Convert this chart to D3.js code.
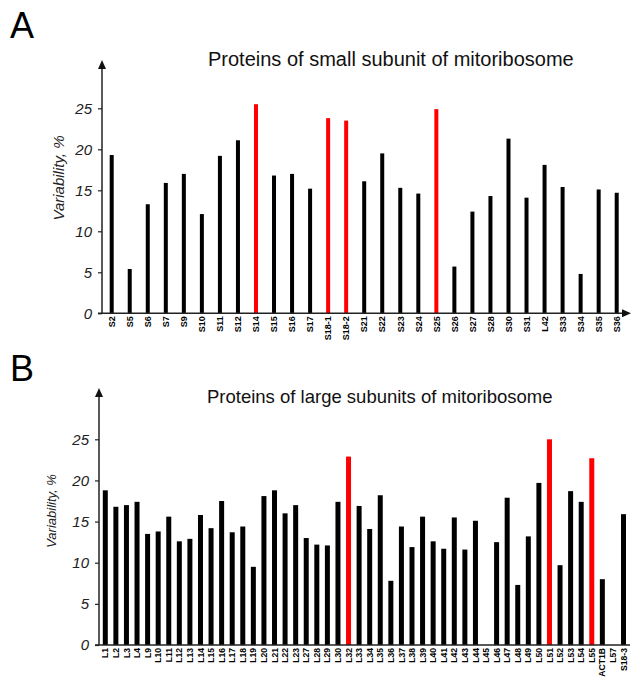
<!DOCTYPE html>
<html>
<head>
<meta charset="utf-8">
<script src="https://cdn.jsdelivr.net/npm/d3@7"></script>
<style>
  html, body { margin: 0; padding: 0; background: #fff; }
  svg { display: block; font-family: "Liberation Sans", Arial, Helvetica, sans-serif; }
</style>
</head>
<body>
<svg id="chart" width="631" height="677"></svg>
<script>
// Small mitoribosome subunit proteins
const smallProteins = ["S2","S5","S6","S7","S9","S10","S11","S12","S14","S15","S16","S17","S18-1","S18-2",
  "S21","S22","S23","S24","S25","S26","S27","S28","S30","S31","L42","S33","S34","S35","S36"];
const smallVariability = [19.3,5.4,13.3,15.9,17.0,12.1,19.2,21.1,25.5,16.8,17.0,15.2,23.8,23.5,
  16.1,19.5,15.3,14.6,24.9,5.7,12.4,14.3,21.3,14.1,18.1,15.4,4.8,15.1,14.7];
const smallHighlighted = ["S14","S18-1","S18-2","S25"];

// Large mitoribosome subunit proteins
const largeProteins = ["L1","L2","L3","L4","L9","L10","L11","L12","L13","L14","L15","L16","L17","L18","L19",
  "L20","L21","L22","L23","L27","L28","L29","L30","L32","L33","L34","L35","L36","L37","L38","L39","L40",
  "L41","L42","L43","L44","L45","L46","L47","L48","L49","L50","L51","L52","L53","L54","L55","ACT1B","L57","S18-3"];
const largeVariability = [18.8,16.8,17.0,17.4,13.5,13.8,15.6,12.6,12.9,15.8,14.2,17.5,13.7,14.4,9.5,
  18.1,18.8,16.0,17.0,13.0,12.2,12.1,17.4,22.9,16.9,14.1,18.2,7.8,14.4,11.9,15.6,12.6,
  11.7,15.5,11.6,15.1,0,12.5,17.9,7.3,13.2,19.7,25.0,9.7,18.7,17.4,22.7,8.0,0,15.9];
const largeHighlighted = ["L32","L51","L55"];

const yTicks = [0, 5, 10, 15, 20, 25];

const svg = d3.select("#chart");

function panel(cfg) {
  const g = svg.append("g");
  const y = d3.scaleLinear().domain([0, 25]).range([cfg.y0, cfg.y25]);
  const x = d3.scalePoint().domain(cfg.cats).range([cfg.xFirst, cfg.xLast]);
  const data = cfg.cats.map((c, i) => ({ cat: c, v: cfg.vals[i] }));

  // panel letter
  g.append("text").attr("x", cfg.letterX).attr("y", cfg.letterY)
    .attr("font-size", 36).attr("fill", "#000").text(cfg.letter);

  // title
  g.append("text").attr("x", cfg.titleX).attr("y", cfg.titleY)
    .attr("font-size", cfg.titleFont).attr("fill", "#111").text(cfg.title);

  // bars
  g.selectAll("rect.bar").data(data.filter(d => d.v > 0)).enter().append("rect")
    .attr("class", "bar")
    .attr("x", d => x(d.cat) - cfg.barW / 2)
    .attr("width", cfg.barW)
    .attr("y", d => y(d.v))
    .attr("height", d => y(0) - y(d.v))
    .attr("fill", d => cfg.hi.includes(d.cat) ? "#ff0000" : "#000");

  // y axis ticks and labels
  const ya = g.append("g").attr("transform", `translate(${cfg.axisX},0)`)
    .call(d3.axisLeft(y).tickValues(yTicks).tickSize(4).tickPadding(cfg.tickPad));
  ya.select(".domain").remove();
  ya.selectAll(".tick line").attr("stroke", "#222").attr("stroke-width", 1.2);
  ya.selectAll(".tick text").attr("font-size", 15).attr("font-style", "italic")
    .attr("font-family", "Liberation Sans, Arial, sans-serif").attr("fill", "#222");

  // axis lines
  g.append("line").attr("x1", cfg.axisX).attr("x2", cfg.axisX)
    .attr("y1", y(0)).attr("y2", cfg.arrowTipY + 6)
    .attr("stroke", "#222").attr("stroke-width", 1.5);
  g.append("path")
    .attr("d", `M${cfg.axisX},${cfg.arrowTipY} L${cfg.axisX - 4},${cfg.arrowTipY + 9} L${cfg.axisX + 4},${cfg.arrowTipY + 9} Z`)
    .attr("fill", "#111");
  g.append("line").attr("x1", cfg.axisX - 4).attr("x2", cfg.xAxisEnd)
    .attr("y1", y(0)).attr("y2", y(0))
    .attr("stroke", "#222").attr("stroke-width", 1.5);
  if (cfg.xArrow) {
    g.append("path")
      .attr("d", `M${cfg.xAxisEnd + 8},${y(0)} L${cfg.xAxisEnd - 1},${y(0) - 4} L${cfg.xAxisEnd - 1},${y(0) + 4} Z`)
      .attr("fill", "#111");
  }

  // category labels
  g.selectAll("text.cat").data(data).enter().append("text")
    .attr("class", "cat")
    .attr("transform", d => `translate(${x(d.cat) + cfg.labelFont * 0.36},${y(0) + 3}) rotate(-90)`)
    .attr("text-anchor", "end")
    .attr("font-size", cfg.labelFont).attr("font-weight", "bold").attr("fill", "#000")
    .text(d => d.cat);

  // y axis title
  g.append("text")
    .attr("transform", `translate(${cfg.yTitleX},${cfg.yTitleY}) rotate(-90)`)
    .attr("text-anchor", "middle").attr("font-style", "italic")
    .attr("font-size", cfg.yTitleFont).attr("fill", "#222")
    .text("Variability, %");
}

panel({
  letter: "A", letterX: 10, letterY: 38,
  title: "Proteins of small subunit of mitoribosome", titleX: 208, titleY: 66, titleFont: 20,
  cats: smallProteins, vals: smallVariability, hi: smallHighlighted,
  y0: 313.3, y25: 108.3, axisX: 102, arrowTipY: 60, tickPad: 6,
  xFirst: 111.7, xLast: 616.7, barW: 4, xAxisEnd: 623, xArrow: true,
  labelFont: 9, yTitleX: 64, yTitleY: 178, yTitleFont: 15
});

panel({
  letter: "B", letterX: 10, letterY: 381,
  title: "Proteins of large subunits of mitoribosome", titleX: 207, titleY: 403, titleFont: 18.5,
  cats: largeProteins, vals: largeVariability, hi: largeHighlighted,
  y0: 645, y25: 439.3, axisX: 99, arrowTipY: 388, tickPad: 6,
  xFirst: 105.3, xLast: 623.5, barW: 5, xAxisEnd: 630, xArrow: false,
  labelFont: 8.6, yTitleX: 56, yTitleY: 511, yTitleFont: 13
});
</script>
</body>
</html>
